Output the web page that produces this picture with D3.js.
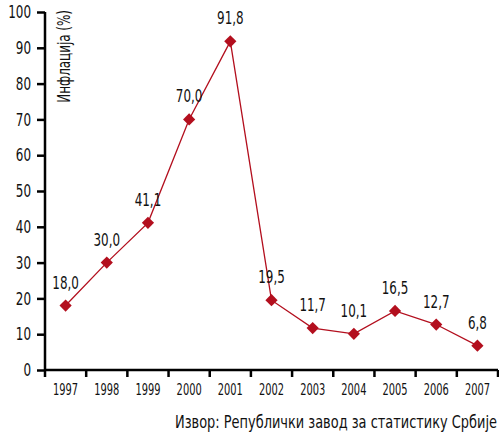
<!DOCTYPE html>
<html>
<head>
<meta charset="utf-8">
<script src="https://cdn.jsdelivr.net/npm/d3@7"></script>
<style>
  body { margin: 0; background: #fff; }
  svg text { font-family: "Liberation Sans Narrow", "DejaVu Sans Condensed", "Roboto", sans-serif; fill: #111; }
</style>
</head>
<body>
<svg class="chart" width="499" height="434"></svg>
<script>
var years = ['1997', '1998', '1999', '2000', '2001', '2002', '2003', '2004', '2005', '2006', '2007'];
var inflation = [18.0, 30.0, 41.1, 70.0, 91.8, 19.5, 11.7, 10.1, 16.5, 12.7, 6.8];
var yTicks = [0, 10, 20, 30, 40, 50, 60, 70, 80, 90, 100];

var red = '#b30f1e';

var margin = {top: 12, right: 1, bottom: 64, left: 45},
    width = 499 - margin.left - margin.right,
    height = 434 - margin.top - margin.bottom;

var svg = d3.select(".chart");

var chart = svg.append("g")
    .attr("transform", "translate(" + margin.left + "," + margin.top + ")");

// the original font is a condensed one, so squeeze text around its anchor
function narrow(sel, sx, x, y) {
  sel.attr("x", 0).attr("y", 0)
    .attr("transform", "translate(" + x + "," + y + ") scale(" + sx + ",1)");
}

// x - year bands
var x = d3.scaleBand()
    .domain(years)
    .range([0, width]);

// y - percent
var y = d3.scaleLinear()
    .domain([0, 100])
    .range([height, 0]);

var yAxis = d3.axisLeft(y).tickValues(yTicks).tickSize(8).tickPadding(6);

var gy = chart.append("g")
    .attr("class", "y axis")
    .call(yAxis);
gy.select(".domain").attr("stroke-width", 2.5).attr("d", "M0," + (height + 1) + "V0");
gy.selectAll(".tick line").attr("stroke-width", 2.5);
gy.selectAll(".tick text")
    .style("font-size", "17.5px")
    .each(function() { narrow(d3.select(this), 0.76, -14, 0); });

// x axis: ticks between categories
var xAxis = d3.axisBottom(x).tickSize(0).tickPadding(14);

var gx = chart.append("g")
    .attr("class", "x axis")
    .attr("transform", "translate(0," + height + ")")
    .call(xAxis);
gx.select(".domain").attr("stroke-width", 2.5).attr("d", "M-1,0H" + width);
gx.selectAll(".tick text")
    .style("font-size", "15px")
    .each(function() { narrow(d3.select(this), 0.73, 0, 14); });

gx.selectAll(".bound")
    .data(years.concat(['end']))
    .enter().append("line")
    .attr("class", "bound")
    .attr("x1", function(d, i) { return i * x.step(); })
    .attr("x2", function(d, i) { return i * x.step(); })
    .attr("y1", 0)
    .attr("y2", 7)
    .attr("stroke", "#000")
    .attr("stroke-width", 2.5);

// y axis title
chart.append("text")
    .attr("transform", "translate(19,-2) rotate(-90) scale(0.78,1)")
    .attr("text-anchor", "end")
    .attr("dy", "0.35em")
    .style("font-size", "17px")
    .text("Инфлација (%)");

var data = years.map(function(d, i) { return {year: d, value: inflation[i]}; });

var line = d3.line()
    .x(function(d) { return x(d.year) + x.bandwidth() / 2; })
    .y(function(d) { return y(d.value); });

chart.append("path")
    .datum(data)
    .attr("fill", "none")
    .attr("stroke", red)
    .attr("stroke-width", 1.3)
    .attr("d", line);

chart.selectAll(".dot")
    .data(data)
    .enter().append("path")
    .attr("class", "dot")
    .attr("d", d3.symbol().type(d3.symbolDiamond2).size(95))
    .attr("fill", red)
    .attr("transform", function(d) {
      return "translate(" + (x(d.year) + x.bandwidth() / 2) + "," + y(d.value) + ")";
    });

chart.selectAll(".label")
    .data(data)
    .enter().append("text")
    .attr("class", "label")
    .attr("text-anchor", "middle")
    .style("font-size", "17px")
    .text(function(d) { return d.value.toFixed(1).replace('.', ','); })
    .each(function(d) {
      narrow(d3.select(this), 0.78, x(d.year) + x.bandwidth() / 2, y(d.value) - 17);
    });

// source
svg.append("text")
    .attr("text-anchor", "end")
    .style("font-size", "18px")
    .text("Извор: Републички завод за статистику Србије")
    .call(narrow, 0.8, 497, 428);
</script>
</body>
</html>
